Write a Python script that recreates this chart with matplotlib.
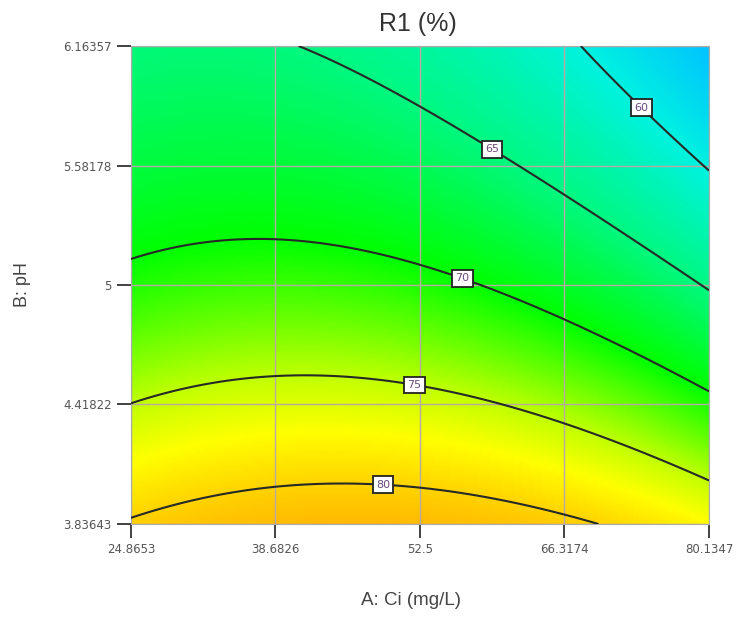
import matplotlib.pyplot as plt
import numpy as np
from matplotlib.colors import LinearSegmentedColormap

# axis ranges and ticks (factor A: Ci, factor B: pH)
a_ticks = [24.8653, 38.6826, 52.5, 66.3174, 80.1347]
b_ticks = [3.83643, 4.41822, 5, 5.58178, 6.16357]
a_tick_labels = ["24.8653", "38.6826", "52.5", "66.3174", "80.1347"]
b_tick_labels = ["3.83643", "4.41822", "5", "5.58178", "6.16357"]

# points read along each contour line of R1 (%)
c60_a = [67.51, 74.25, 80.13]
c60_b = [6.164, 5.862, 5.550]
c65_a = [40.37, 52.5, 60.82, 71.15, 80.13]
c65_b = [6.164, 5.862, 5.647, 5.268, 4.976]
c70_a = [24.87, 38.68, 52.5, 66.32, 80.13]
c70_b = [5.131, 5.224, 5.087, 4.830, 4.474]
c75_a = [24.87, 38.68, 52.5, 66.32, 80.13]
c75_b = [4.430, 4.561, 4.503, 4.329, 4.051]
c80_a = [24.87, 44.85, 52.5, 66.32, 69.91]
c80_b = [3.861, 4.031, 4.017, 3.881, 3.836]
levels = [60, 65, 70, 75, 80]

# where the contour labels sit
label_pos = [(74.0, 5.88), (59.5, 5.67), (57.0, 5.10), (52.0, 4.52), (49.0, 4.06)]

# colour stops (response value -> colour) read from the shading
stop_vals = [52, 56, 60, 65, 70, 75, 77.5, 80, 82.5, 85]
stop_cols = ["#0090ff", "#00c4ff", "#00f2e0", "#00f880", "#00ff00",
             "#c0ff00", "#ffff00", "#ffd400", "#ffb400", "#ff9000"]

a_lo, a_hi = a_ticks[0], a_ticks[-1]
b_lo, b_hi = b_ticks[0], b_ticks[-1]


def coded(a, b):
    a = (np.asarray(a) - 52.5) / (a_hi - 52.5)
    b = (np.asarray(b) - 5.0) / (b_hi - 5.0)
    return a, b


def terms(x, y):
    return np.column_stack([np.ones_like(x), x, y, x * y, x ** 2, y ** 2])


# fit a quadratic response surface through the contour points
pts_a, pts_b, pts_r = [], [], []
for lev, ca, cb in zip(levels, [c60_a, c65_a, c70_a, c75_a, c80_a],
                       [c60_b, c65_b, c70_b, c75_b, c80_b]):
    pts_a += ca
    pts_b += cb
    pts_r += [lev] * len(ca)
xa, xb = coded(pts_a, pts_b)
coef, *_ = np.linalg.lstsq(terms(xa, xb), np.array(pts_r, float), rcond=None)

fa = np.linspace(a_lo, a_hi, 200)
fb = np.linspace(b_lo, b_hi, 200)
FA, FB = np.meshgrid(fa, fb)
fa_, fb_ = coded(FA.ravel(), FB.ravel())
RF = (terms(fa_, fb_) @ coef).reshape(FA.shape)

vmin, vmax = stop_vals[0], stop_vals[-1]
cmap = LinearSegmentedColormap.from_list(
    "de", [((v - vmin) / (vmax - vmin), c) for v, c in zip(stop_vals, stop_cols)])

fig = plt.figure(figsize=(7.37, 6.32), dpi=100)
ax = fig.add_axes([0.1777, 0.1709, 0.7843, 0.7563])

ax.pcolormesh(FA, FB, RF, cmap=cmap, vmin=vmin, vmax=vmax, shading="gouraud", zorder=0)
cs = ax.contour(FA, FB, RF, levels=levels, colors="#262a26", linewidths=1.5, zorder=3)
texts = ax.clabel(cs, levels, inline=False, fontsize=8, fmt="%d", manual=label_pos,
                  colors="#6a4a7a")
for t in texts:
    t.set_rotation(0)
    t.set_zorder(5)
    t.set_bbox(dict(boxstyle="square,pad=0.3", fc="white", ec="#222222", lw=1.3))

ax.set_xlim(a_lo, a_hi)
ax.set_ylim(b_lo, b_hi)
ax.set_xticks(a_ticks)
ax.set_xticklabels(a_tick_labels)
ax.set_yticks(b_ticks)
ax.set_yticklabels(b_tick_labels)
ax.tick_params(direction="out", length=10, width=1.3, color="#333333",
               labelsize=8.5, labelcolor="#555555", pad=4)
ax.grid(True, color="#b8a8a8", lw=1.0)
for s in ax.spines.values():
    s.set_color("#aaaaaa")
    s.set_linewidth(0.8)

fig.text(0.567, 0.962, "R1 (%)", ha="center", va="center", fontsize=18,
         family="Liberation Sans", color="#333333")
fig.text(0.557, 0.05, "A: Ci (mg/L)", ha="center", va="center", fontsize=13.5,
         family="Liberation Sans", color="#444444")
fig.text(0.03, 0.549, "B: pH", ha="center", va="center", fontsize=13,
         rotation=90, family="Liberation Sans", color="#444444")

fig.savefig("out.png", dpi=100)
